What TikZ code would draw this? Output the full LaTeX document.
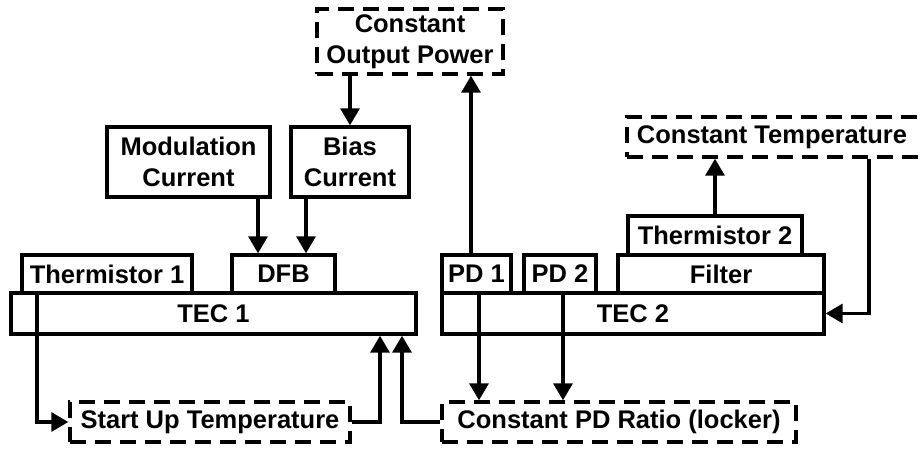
\documentclass[tikz,border=0pt]{standalone}
\usepackage{fontspec}
\setmainfont{Liberation Sans}
\usetikzlibrary{arrows.meta}
\begin{document}
\begin{tikzpicture}[x=1pt,y=-1pt,
  every node/.style={font=\bfseries\fontsize{25.5}{31.5}\selectfont, inner sep=0pt, align=center},
  box/.style={draw, line width=3.4pt, rectangle},
  dbox/.style={box, dash pattern=on 16pt off 9pt},
  conn/.style={line width=3.4pt},
  arr/.style={conn, -{Triangle[length=17pt,width=19pt]}}]
\useasboundingbox (0,0) rectangle (924,448);
% top row
\node[dbox, minimum width=186pt, minimum height=65pt] (cop) at (410,41.5) {Constant\\Output Power};
\node[box, minimum width=163pt, minimum height=70pt] (mod) at (188.5,162) {Modulation\\Current};
\node[box, minimum width=118pt, minimum height=70pt] (bias) at (350,162) {Bias\\Current};
\node[dbox, minimum width=300pt, minimum height=40pt] (ct) at (777,137) {\hspace*{-10pt}Constant Temperature};
\node[box, minimum width=174pt, minimum height=39pt] (th2) at (715,235.5) {Thermistor 2};
% component row
\node[box, minimum width=170pt, minimum height=38pt] (th1) at (107,274) {Thermistor 1};
\node[box, minimum width=103pt, minimum height=38pt] (dfb) at (283.5,274) {DFB};
\node[box, minimum width=69pt, minimum height=38pt] (pd1) at (476.5,274) {PD 1};
\node[box, minimum width=72pt, minimum height=38pt] (pd2) at (560,274) {PD 2};
\node[box, minimum width=206pt, minimum height=38pt] (filter) at (721,274) {Filter};
% TECs
\node[box, minimum width=405pt, minimum height=41pt] (tec1) at (213.5,313.5) {TEC 1};
\node[box, minimum width=382pt, minimum height=41pt] (tec2) at (633,313.5) {TEC 2};
% bottom
\node[dbox, minimum width=280pt, minimum height=40pt] (su) at (210,422) {Start Up Temperature};
\node[dbox, minimum width=354pt, minimum height=40pt] (pr) at (619,422) {Constant PD Ratio (locker)};
% x positions of connectors
\coordinate (xm) at (258,0);
\coordinate (xb) at (306,0);
\coordinate (xp1u) at (471,0);
\coordinate (xp1d) at (479,0);
\coordinate (xp2) at (563,0);
\coordinate (xct) at (869,0);
\coordinate (xth1) at (37,0);
\coordinate (xsu) at (380,0);
\coordinate (xpr) at (402,0);
% connectors
\draw[arr] (cop.south -| bias.north) -- (bias.north);
\draw[arr] (mod.south -| xm) -- (dfb.north -| xm);
\draw[arr] (bias.south -| xb) -- (dfb.north -| xb);
\draw[arr] (pd1.north -| xp1u) -- (cop.south -| xp1u);
\draw[arr] (th2.north) -- (ct.south -| th2.north);
\draw[arr] (ct.south -| xct) |- (tec2.east);
\draw[arr] (th1.south -| xth1) |- (su.west);
\draw[arr] (su.east) -| (tec1.south -| xsu);
\draw[arr] (pr.west) -| (tec1.south -| xpr);
\draw[arr] (pd1.south -| xp1d) -- (pr.north -| xp1d);
\draw[arr] (pd2.south -| xp2) -- (pr.north -| xp2);
\end{tikzpicture}
\end{document}
